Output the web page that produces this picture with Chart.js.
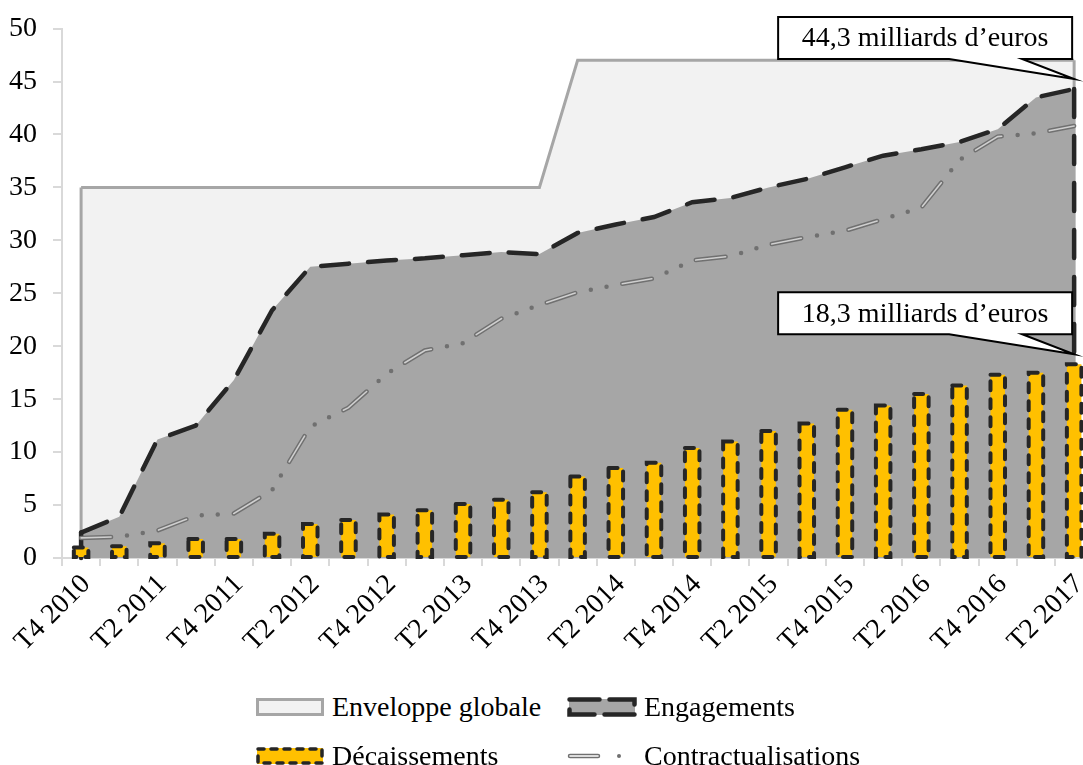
<!DOCTYPE html>
<html>
<head>
<meta charset="utf-8">
<script src="https://cdn.jsdelivr.net/npm/chart.js@4.4.0/dist/chart.umd.min.js"></script>
<style>
body { margin: 0; overflow: hidden; background: #fff; }
#wrap { position: relative; width: 1083px; height: 765px; overflow: hidden; }
#chart { position: absolute; left: 0; top: 0; }
#legend {
    position: absolute; left: 255px; top: 687px;
    display: grid; grid-template-columns: 312px auto; row-gap: 9px;
    font-family: "Liberation Serif", serif; font-size: 28px; color: #000;
}
.item { display: flex; align-items: center; height: 40px; white-space: nowrap; }
.item canvas { margin-right: 7px; }
</style>
</head>
<body>
<div id="wrap">
    <canvas id="chart" width="1100" height="665"></canvas>
    <div id="legend"></div>
</div>
<script>
var quarters = ['T4 2010', 'T1 2011', 'T2 2011', 'T3 2011', 'T4 2011', 'T1 2012', 'T2 2012', 'T3 2012',
    'T4 2012', 'T1 2013', 'T2 2013', 'T3 2013', 'T4 2013', 'T1 2014', 'T2 2014', 'T3 2014', 'T4 2014',
    'T1 2015', 'T2 2015', 'T3 2015', 'T4 2015', 'T1 2016', 'T2 2016', 'T3 2016', 'T4 2016', 'T1 2017', 'T2 2017'];
var shownTicks = ['T4 2010', 'T2 2011', 'T4 2011', 'T2 2012', 'T4 2012', 'T2 2013', 'T4 2013',
    'T2 2014', 'T4 2014', 'T2 2015', 'T4 2015', 'T2 2016', 'T4 2016', 'T2 2017'];

// milliards d'euros
var enveloppe = [35, 35, 35, 35, 35, 35, 35, 35, 35, 35, 35, 35, 35,
    47, 47, 47, 47, 47, 47, 47, 47, 47, 47, 47, 47, 47, 47];
var engagements = [2.4, 3.9, 11.2, 12.5, 16.8, 23.4, 27.5, 27.8, 28.1, 28.3, 28.6, 28.9, 28.7,
    30.7, 31.5, 32.2, 33.6, 34.0, 35.0, 35.8, 36.9, 38.0, 38.6, 39.3, 40.5, 43.5, 44.3];
var decaissements = [1.0, 1.1, 1.4, 1.8, 1.8, 2.3, 3.2, 3.6, 4.1, 4.5, 5.1, 5.5, 6.2,
    7.7, 8.5, 9.0, 10.4, 11.0, 12.0, 12.7, 14.0, 14.4, 15.5, 16.3, 17.3, 17.5, 18.3];
var contractualisations = [1.9, 2.0, 2.6, 4.0, 4.2, 6.4, 12.4, 14.2, 17.4, 19.6, 20.3, 22.6, 23.9,
    25.1, 25.8, 26.4, 28.1, 28.5, 29.6, 30.3, 30.9, 32.0, 33.1, 37.6, 39.8, 40.1, 40.8];

var yMin = 0, yMax = 50, yStep = 5;
var calloutUnit = 'milliards d\u2019euros';

var FONT = 'Liberation Serif';

// vertical sides of the filled areas
var edgePlugin = {
    id: 'areaEdges',
    afterDatasetDraw: function(chart, args) {
        var ds = chart.data.datasets[args.index];
        if (!ds.edges) return;
        var pts = args.meta.data, ctx = chart.ctx;
        var base = chart.scales.y.getPixelForValue(0);
        ctx.save();
        ctx.strokeStyle = ds.borderColor;
        ctx.lineWidth = ds.borderWidth;
        ctx.setLineDash(ds.borderDash || []);
        ctx.lineCap = ds.borderCapStyle || 'butt';
        [pts[0], pts[pts.length - 1]].forEach(function(p) {
            ctx.beginPath();
            ctx.moveTo(p.x, p.y);
            ctx.lineTo(p.x, base);
            ctx.stroke();
        });
        ctx.restore();
    }
};

// bars have no dashed border in chart.js, so stroke it here
var barDashPlugin = {
    id: 'barDash',
    afterDatasetDraw: function(chart, args) {
        var ds = chart.data.datasets[args.index];
        if (!ds.dashBorder) return;
        var ctx = chart.ctx, d = ds.dashBorder;
        ctx.save();
        ctx.strokeStyle = d.color;
        ctx.lineWidth = d.width;
        ctx.setLineDash(d.dash);
        ctx.lineCap = 'round';
        args.meta.data.forEach(function(bar) {
            var w = bar.width;
            ctx.strokeRect(bar.x - w / 2, bar.y, w, bar.base - bar.y);
        });
        ctx.restore();
    }
};

var calloutPlugin = {
    id: 'callouts',
    afterDraw: function(chart) {
        var ctx = chart.ctx;
        chart.data.datasets.forEach(function(ds, i) {
            if (!ds.callout) return;
            var meta = chart.getDatasetMeta(i);
            var last = meta.data.length - 1;
            var p = meta.data[last], v = ds.data[last];
            var tipX = p.x, tipY = p.y - 10;
            var right = tipX - 2, left = right - 294, bottom = tipY - 20, top = bottom - 42;
            ctx.save();
            ctx.beginPath();
            ctx.moveTo(left, top);
            ctx.lineTo(right, top);
            ctx.lineTo(right, bottom);
            ctx.lineTo(right - 50, bottom);
            ctx.lineTo(tipX, tipY);
            ctx.lineTo(right - 123, bottom);
            ctx.lineTo(left, bottom);
            ctx.closePath();
            ctx.fillStyle = '#fff';
            ctx.fill();
            ctx.lineWidth = 2;
            ctx.strokeStyle = '#000';
            ctx.stroke();
            ctx.fillStyle = '#000';
            ctx.font = '28px "' + FONT + '"';
            ctx.textAlign = 'center';
            ctx.textBaseline = 'middle';
            ctx.fillText(v.toFixed(1).replace('.', ',') + ' ' + calloutUnit, (left + right) / 2, (top + bottom) / 2 + 1);
            ctx.restore();
        });
    }
};

var ctx = document.getElementById('chart').getContext('2d');
var chart = new Chart(ctx, {
    type: 'bar',
    data: {
        labels: quarters,
        datasets: [{
            type: 'line',
            label: 'Enveloppe globale',
            data: enveloppe,
            fill: 'origin',
            backgroundColor: '#f2f2f2',
            borderColor: '#a6a6a6',
            borderWidth: 3,
            pointRadius: 0,
            tension: 0,
            edges: true,
            swatch: 'area',
            order: 4
        }, {
            type: 'line',
            label: 'Engagements',
            data: engagements,
            fill: 'origin',
            backgroundColor: '#a6a6a6',
            borderColor: '#262626',
            borderWidth: 4.5,
            borderDash: [28, 19],
            borderCapStyle: 'round',
            pointRadius: 0,
            tension: 0,
            edges: true,
            callout: true,
            swatch: 'area',
            order: 3
        }, {
            label: 'Décaissements',
            data: decaissements,
            backgroundColor: '#ffc000',
            borderWidth: 0,
            barPercentage: 0.38,
            categoryPercentage: 1,
            dashBorder: { color: '#262626', width: 4, dash: [9, 9] },
            callout: true,
            swatch: 'bar',
            order: 0
        }, {
            type: 'line',
            label: 'Contractualisations',
            data: contractualisations,
            fill: false,
            borderColor: '#707070',
            borderWidth: 4.5,
            borderDash: [30, 16, 0, 16, 0, 16],
            borderCapStyle: 'round',
            pointRadius: 0,
            tension: 0,
            swatch: 'line',
            order: 2
        }, {
            // inner part of the double line
            type: 'line',
            label: 'Contractualisations (inner)',
            data: contractualisations,
            fill: false,
            borderColor: '#cfcfcf',
            borderWidth: 1.6,
            borderDash: [30, 48],
            borderCapStyle: 'round',
            pointRadius: 0,
            tension: 0,
            noLegend: true,
            order: 1
        }]
    },
    options: {
        responsive: false,
        animation: false,
        devicePixelRatio: 1,
        layout: { padding: { top: 10, right: 6, bottom: 0, left: 0 } },
        plugins: {
            legend: { display: false },
            tooltip: { enabled: false }
        },
        scales: {
            x: {
                offset: true,
                grid: { drawOnChartArea: false, offset: true, tickLength: 8, color: '#d9d9d9', lineWidth: 2 },
                border: { color: '#d9d9d9', width: 2 },
                ticks: {
                    autoSkip: false,
                    maxRotation: 45,
                    minRotation: 45,
                    padding: 2,
                    labelOffset: 5,
                    color: '#000',
                    font: { family: FONT, size: 28 },
                    callback: function(value) {
                        var lab = this.getLabelForValue(value);
                        return shownTicks.indexOf(lab) >= 0 ? lab : '';
                    }
                },
                afterFit: function(axis) { axis.height = 107; }
            },
            y: {
                min: yMin,
                max: yMax,
                grid: { drawOnChartArea: false, tickLength: 9, color: '#d9d9d9', lineWidth: 2 },
                border: { color: '#d9d9d9', width: 2 },
                ticks: {
                    stepSize: yStep,
                    padding: 16,
                    color: '#000',
                    font: { family: FONT, size: 28, lineHeight: 0.9 }
                },
                afterFit: function(axis) { axis.width = 62; }
            }
        }
    },
    plugins: [edgePlugin, barDashPlugin, calloutPlugin]
});

function drawSwatch(cv, ds) {
    var c = cv.getContext('2d');
    if (ds.swatch === 'area') {
        c.fillStyle = ds.backgroundColor;
        c.fillRect(2, 2, 66, 16);
        c.strokeStyle = ds.borderColor;
        c.lineWidth = ds.borderWidth;
        c.lineCap = ds.borderCapStyle || 'butt';
        c.setLineDash(ds.borderDash ? [30, 10] : []);
        c.strokeRect(2.5, 2.5, 65, 15);
    } else if (ds.swatch === 'bar') {
        c.fillStyle = ds.backgroundColor;
        c.fillRect(2, 2, 66, 16);
        c.strokeStyle = ds.dashBorder.color;
        c.lineWidth = 3.5;
        c.lineCap = 'round';
        c.setLineDash([6, 7]);
        c.strokeRect(3, 3, 64, 14);
    } else {
        c.lineCap = 'round';
        c.strokeStyle = ds.borderColor;
        c.lineWidth = 4.5;
        c.beginPath(); c.moveTo(3, 10); c.lineTo(31, 10); c.stroke();
        c.strokeStyle = '#fff';
        c.lineWidth = 1.6;
        c.beginPath(); c.moveTo(3, 10); c.lineTo(31, 10); c.stroke();
        c.fillStyle = ds.borderColor;
        c.beginPath(); c.arc(52, 10, 2, 0, Math.PI * 2); c.fill();
    }
}

var legend = document.getElementById('legend');
chart.data.datasets.forEach(function(ds) {
    if (ds.noLegend) return;
    var item = document.createElement('div');
    item.className = 'item';
    var cv = document.createElement('canvas');
    cv.width = 70; cv.height = 20;
    drawSwatch(cv, ds);
    var span = document.createElement('span');
    span.textContent = ds.label;
    item.appendChild(cv);
    item.appendChild(span);
    legend.appendChild(item);
});
</script>
</body>
</html>
